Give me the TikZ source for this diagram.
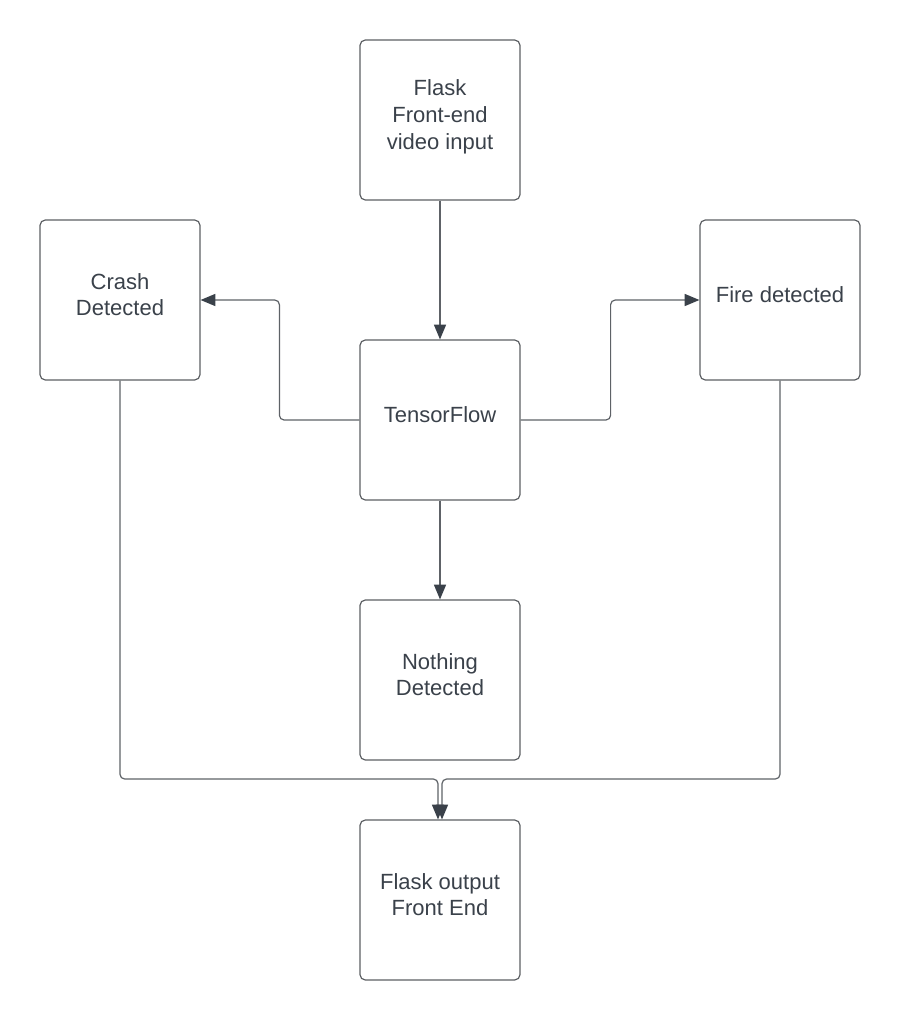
\documentclass[tikz,border=0pt]{standalone}
\usepackage{fontspec}
\setmainfont{Liberation Sans}
\usepackage{xcolor}
\usepackage{tikz}
\usetikzlibrary{arrows.meta}
\definecolor{boxline}{HTML}{5C5F63}
\definecolor{wire}{HTML}{5E6267}
\definecolor{ink}{HTML}{3A414A}

\begin{document}
\begin{tikzpicture}[x=0.75pt, y=-0.75pt,
  textbox/.style={font=\fontsize{16.5}{20}\selectfont, text=ink, draw=boxline, line width=0.9pt, rounded corners=4pt, minimum width=120pt, minimum height=120pt, inner sep=3pt, text depth=8pt, align=center},
  link/.style={draw=wire, line width=0.9pt, rounded corners=3.5pt, -{Triangle[length=11pt, width=9pt, color=ink]}}]
\useasboundingbox (0,0) rectangle (900,1020);
%boxes
\node[textbox] (flask) at (440,120) {Flask\\Front-end\\video input};
\node[textbox] (crash) at (120,300) {Crash\\Detected};
\node[textbox] (tf) at (440,420) {TensorFlow};
\node[textbox] (fire) at (780,300) {Fire detected};
\node[textbox] (nothing) at (440,680) {Nothing\\Detected};
\node[textbox] (out) at (440,900) {Flask output\\Front End};
\coordinate (join) at (440,779);
%links
\draw [link] (flask) -- (tf);
\draw [link] (tf.west) -- ++(-80,0) |- (crash.east);
\draw [link] (tf.east) -- ++(90,0) |- (fire.west);
\draw [link] (tf) -- (nothing);
\draw [link] (crash.south) |- ([xshift=-1.5pt]join) -- ([xshift=-1.5pt]out.north);
\draw [link] (fire.south) |- ([xshift=1.5pt]join) -- ([xshift=1.5pt]out.north);
\end{tikzpicture}
\end{document}
